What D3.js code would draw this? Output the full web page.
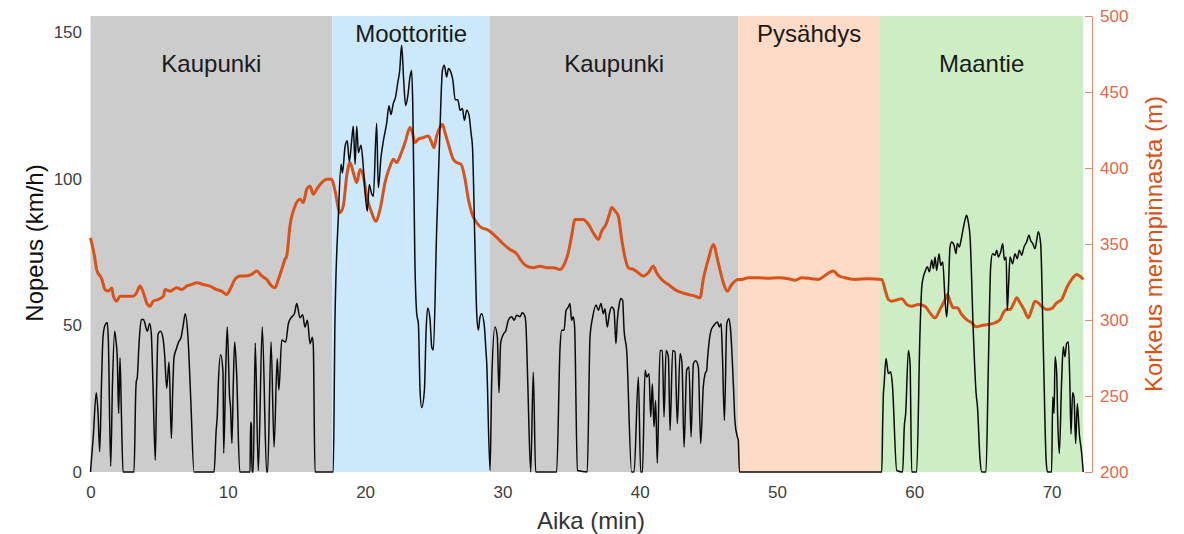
<!DOCTYPE html>
<html>
<head>
<meta charset="utf-8">
<script src="https://cdn.jsdelivr.net/npm/d3@7"></script>
<style>
  html, body { margin: 0; padding: 0; background: #fff; }
  svg { display: block; font-family: "Liberation Sans", Arial, Helvetica, sans-serif; }
</style>
</head>
<body>
<svg id="chart" width="1184" height="534"></svg>
<script>
// ---------- DATA ----------
const regionNames  = ["Kaupunki", "Moottoritie", "Kaupunki", "Pysähdys", "Maantie"];
const regionStarts = [0, 17.61, 29.1, 47.18, 57.5];
const regionEnds   = [17.61, 29.1, 47.18, 57.5, 72.3];

const xTicks = [0, 10, 20, 30, 40, 50, 60, 70];
const speedTicks = [0, 50, 100, 150];
const elevTicks = [200, 250, 300, 350, 400, 450, 500];

// [time (min), speed (km/h)]
const speedData = [
[0,0],[0.2,12],[0.42,27],[0.55,20],[0.67,7],[0.8,30],[0.91,46],[1.05,50],[1.22,51],[1.3,45],[1.47,2],[1.6,30],[1.76,48],[1.85,45],[1.95,39],[2.05,20],[2.15,39],[2.25,20],[2.37,0],[3.17,0],[3.3,28],[3.34,31],[3.4,32],[3.55,45],[3.7,52],[3.85,52],[3.95,51],[4.05,49],[4.14,48],[4.31,50.7],[4.43,47],[4.55,30],[4.72,4],[4.82,30],[4.92,47],[5.1,48],[5.28,45.6],[5.4,40],[5.55,28.6],[5.72,37.5],[5.89,11.5],[6.0,30],[6.08,39],[6.25,42],[6.42,44.4],[6.6,46],[6.75,50],[6.9,54],[7.1,46],[7.3,25],[7.54,0],[9.0,0],[9.15,14],[9.24,20],[9.3,29],[9.48,40],[9.65,34],[9.7,6.4],[9.85,35],[9.96,49.5],[10.13,25.6],[10.2,22],[10.3,9.8],[10.4,30],[10.5,44.4],[10.64,34],[10.87,0],[11.62,0],[11.66,17],[11.72,16],[11.76,0],[11.85,0],[12.0,44],[12.22,0.5],[12.51,49.5],[12.83,0],[12.9,0],[13.15,44.4],[13.37,8.5],[13.6,38.7],[13.72,28],[13.93,45],[14.22,44.4],[14.41,50.6],[14.65,52.9],[14.85,54],[15.02,57.5],[15.26,52.6],[15.45,53.7],[15.62,49.5],[15.8,51.8],[15.99,43.8],[16.16,46],[16.23,42.7],[16.35,0],[17.68,0],[17.8,50],[18.05,87],[18.25,105],[18.35,102],[18.54,111],[18.7,113],[18.85,106],[19.02,113],[19.14,118],[19.27,105],[19.39,118],[19.51,109],[19.7,111.5],[19.87,104],[19.99,96],[20.16,89],[20.3,98],[20.47,95],[20.6,94],[20.84,119],[20.96,97],[21.16,107.5],[21.33,113],[21.57,119],[21.74,125],[21.88,122],[22.05,125.7],[22.22,128],[22.37,132.6],[22.52,137],[22.66,145.6],[22.81,133.7],[22.95,125],[23.1,128],[23.27,134.8],[23.39,137],[23.47,125.7],[23.63,71],[23.76,54],[23.88,50.6],[24.0,28],[24.12,22],[24.32,28],[24.44,48],[24.56,56],[24.73,52],[24.85,42.7],[24.97,41.6],[25.21,82.5],[25.45,116.6],[25.63,137],[25.77,138.8],[25.94,134.8],[26.07,137.7],[26.24,136.5],[26.39,133.7],[26.56,127],[26.75,127],[26.92,123.4],[27.09,124],[27.23,120],[27.4,123.4],[27.57,121.7],[27.72,115.5],[27.82,111],[28.0,77],[28.13,54],[28.25,48.4],[28.37,53],[28.49,54],[28.69,49.5],[28.8,41.5],[28.85,38],[29.1,0.5],[29.22,31],[29.46,49.5],[29.63,46],[29.75,27],[29.87,44],[30.07,47],[30.26,48.4],[30.43,51.8],[30.67,53],[30.85,51.8],[31.04,53.5],[31.28,53],[31.45,54.3],[31.65,53],[31.72,49.5],[31.85,30],[32.06,0],[32.25,34],[32.42,0],[33.95,0],[34.2,42.7],[34.32,48.4],[34.49,48.4],[34.63,55],[34.8,56.3],[34.92,57.5],[35.04,51.8],[35.16,53],[35.26,49.5],[35.46,0.5],[36.18,0],[36.38,46],[36.58,53],[36.82,57],[36.99,55.2],[37.18,57.5],[37.35,54],[37.47,55.7],[37.64,49.5],[37.79,54],[37.96,56.3],[38.13,55.2],[38.27,43.8],[38.37,51.8],[38.52,57.5],[38.62,59.2],[38.76,58.6],[38.86,48.4],[39.05,41.5],[39.41,0],[39.59,0],[39.9,32.4],[40.07,0],[40.2,0],[40.39,34.7],[40.51,32.4],[40.68,33.5],[40.8,18.8],[40.92,30],[41.04,15.4],[41.16,24.4],[41.28,3],[41.48,41.5],[41.65,41.5],[41.77,18.8],[41.92,41.5],[42.09,39.3],[42.21,14.2],[42.4,41.5],[42.57,41],[42.74,16.5],[42.94,40.4],[43.08,37],[43.23,8.5],[43.42,34.7],[43.59,35.8],[43.74,12],[43.91,37],[44.08,38],[44.27,35.8],[44.44,9.7],[44.63,29],[44.76,33.5],[44.88,34.7],[44.93,38],[45.07,45],[45.2,48.4],[45.32,49.5],[45.49,50.6],[45.66,51.2],[45.8,49.5],[45.93,50.6],[46.02,40.4],[46.17,17.6],[46.34,50.6],[46.5,52.3],[46.62,48.4],[46.82,30],[46.94,17],[47.11,12],[47.18,11],[47.26,0],[57.63,0],[57.7,17.6],[57.74,25.6],[57.8,30],[57.94,38.7],[58.11,33.6],[58.28,34.2],[58.4,30],[58.72,0.5],[59.15,0],[59.27,15.4],[59.37,20],[59.57,41.5],[59.69,37],[59.81,0],[60.17,0],[60.41,47.2],[60.54,63],[60.66,66.6],[60.78,68.3],[60.95,70],[61.1,68.3],[61.27,72.3],[61.39,69.4],[61.51,73.4],[61.63,68.8],[61.8,74.5],[61.92,70.5],[62.07,71.7],[62.24,58.6],[62.36,52.9],[62.48,62],[62.6,76.8],[62.72,78.5],[62.89,77.4],[63.04,74.5],[63.13,78],[63.28,76.8],[63.4,79],[63.52,82],[63.69,86],[63.81,87.6],[63.93,85.3],[64.06,80.2],[64.3,47.2],[64.5,26.8],[64.6,22.2],[64.79,4],[64.91,0],[65.22,0],[65.39,35.8],[65.56,70],[65.7,74.5],[65.88,74],[66.0,75.7],[66.12,73.4],[66.29,75.1],[66.44,77.9],[66.56,72.3],[66.69,73.4],[66.77,55.2],[66.87,64.3],[66.97,73.4],[67.16,71.1],[67.33,74.5],[67.5,72.8],[67.65,75.7],[67.82,74],[67.99,76.8],[68.18,78.5],[68.35,80.8],[68.47,79],[68.62,78],[68.79,76.2],[68.91,79],[69.03,82],[69.2,78],[69.4,41.5],[69.6,4],[69.7,0],[70.0,0],[70.08,25.6],[70.18,20],[70.25,39.3],[70.37,33.6],[70.44,18.8],[70.56,6.3],[70.73,31.3],[70.85,42.7],[70.97,39.3],[71.09,43.8],[71.22,44.4],[71.33,30],[71.41,13],[71.53,27],[71.63,25.6],[71.75,9.7],[71.87,23.3],[72.02,12.9],[72.19,6.3],[72.3,0]
];

// [time (min), elevation (m)]
const elevData = [
[0,354],[0.33,340],[0.45,333],[0.82,327],[1.06,320],[1.3,319],[1.55,321],[1.66,316],[1.91,312.4],[2.15,315.7],[2.64,315.7],[3.12,315.7],[3.36,318],[3.6,322.3],[3.85,318],[4.09,311.3],[4.33,309],[4.57,312.4],[4.94,313.5],[5.31,315.7],[5.43,320],[5.8,319],[6.28,321.2],[6.65,320],[7.0,322.3],[7.4,323.4],[7.73,324.5],[8.22,323.4],[8.7,322.3],[9.19,320],[9.55,319],[9.92,316.8],[10.16,320],[10.52,326.7],[10.89,329],[11.38,329],[11.74,330],[12.1,332.2],[12.47,329],[12.83,326.7],[13.2,322.3],[13.44,321.2],[13.68,326.7],[13.93,333.3],[14.17,340],[14.29,342],[14.53,362],[14.9,375],[15.26,379.4],[15.5,377.2],[15.75,386],[15.99,388],[16.23,382.7],[16.47,386],[16.84,390.4],[17.2,392.6],[17.57,392.6],[17.81,385],[18.17,370.6],[18.41,375],[18.66,394.7],[18.9,403.6],[19.14,397],[19.39,390.4],[19.63,399],[19.87,394.7],[20.11,381.6],[20.48,370.6],[20.77,365],[21.09,372.8],[21.45,390.4],[21.82,401.3],[22.06,405.7],[22.3,403.6],[22.55,408],[22.91,416.7],[23.27,426.6],[23.44,423.3],[23.63,416.7],[23.88,419],[24.24,420],[24.6,421],[24.85,416.7],[25.02,413.4],[25.21,421],[25.45,426.6],[25.63,428.8],[25.82,423.3],[26.07,415.6],[26.42,405.7],[26.67,403.6],[26.99,402.4],[27.28,392.6],[27.52,379.4],[27.76,370.6],[28.13,364],[28.49,360.7],[28.86,359.6],[29.22,357.4],[29.6,354.2],[30.07,350],[30.55,346.4],[31.04,343.5],[31.4,338.7],[31.77,335.4],[32.25,334.4],[32.74,335.4],[33.22,334.4],[33.71,334.4],[34.2,333.3],[34.56,337.7],[34.8,344.3],[35.04,355.2],[35.29,366.2],[35.53,366.2],[35.89,366.2],[36.26,363],[36.62,357.4],[36.99,353],[37.23,358.5],[37.55,363],[37.79,369.5],[37.96,374],[38.2,371.7],[38.44,368.4],[38.69,353],[38.93,341],[39.17,334.4],[39.53,333.3],[39.9,331.1],[40.26,329],[40.63,331.1],[40.99,335.4],[41.23,331.1],[41.6,326.7],[42.08,323.4],[42.57,320],[43.06,318],[43.54,316.8],[44.03,315.7],[44.39,314.6],[44.63,326.7],[45.0,340],[45.36,349.7],[45.72,337.7],[46.09,324.5],[46.38,319],[46.7,323.4],[47.18,326.7],[47.42,326.7],[47.91,327.8],[48.64,327.8],[49.36,327.5],[50.09,327.8],[50.82,327.2],[51.31,326.2],[51.8,327.8],[52.52,327.2],[53.01,326.7],[53.5,329.3],[54.1,332.2],[54.47,329.3],[54.95,327.8],[55.68,326.7],[56.65,327.2],[57.63,326.7],[57.87,320],[58.11,313.5],[58.36,312.4],[58.84,313.5],[59.08,314],[59.45,310.2],[59.81,309],[60.3,310.2],[60.78,309],[61.14,304.7],[61.51,301.4],[61.87,306.9],[62.24,313.5],[62.41,316.8],[62.6,312.4],[62.84,308],[63.13,308],[63.45,303.6],[63.81,300.3],[64.18,298.2],[64.5,295.5],[64.91,296.4],[65.39,297],[65.88,298.2],[66.25,300.3],[66.48,304.7],[66.72,306.9],[66.97,306.9],[67.26,311.3],[67.46,314.6],[67.7,311.3],[67.99,306.9],[68.3,301.4],[68.55,306.9],[68.79,312.4],[69.03,311.3],[69.27,309],[69.64,306.9],[70.0,307.5],[70.37,311.3],[70.73,313.5],[71.1,321.2],[71.46,326.7],[71.83,330],[72.19,327.8],[72.3,326.7]
];

// ---------- STYLE ----------
const regionColor = {
  "Kaupunki": "#cccccc",
  "Moottoritie": "#cce9fb",
  "Pysähdys": "#fddbc7",
  "Maantie": "#cdeec4"
};
const ORANGE = "#d95319";

// ---------- DRAW ----------
const svg = d3.select("#chart");
const x = d3.scaleLinear().domain([0, 72.3]).range([90.5, 1083.2]);
const ySpeed = d3.scaleLinear().domain([0, 155.6]).range([472, 16]);
const yElev = d3.scaleLinear().domain([200, 500]).range([472, 16]);

const regions = regionNames.map((n, i) => ({ name: n, start: regionStarts[i], end: regionEnds[i], i }));

svg.append("g").selectAll("rect").data(regions).join("rect")
  .attr("x", d => x(d.start))
  .attr("y", ySpeed.range()[1])
  .attr("width", d => x(d.end) - x(d.start))
  .attr("height", ySpeed.range()[0] - ySpeed.range()[1])
  .attr("fill", d => regionColor[d.name]);

svg.append("g").selectAll("text").data(regions).join("text")
  .attr("x", d => (x(d.start) + x(d.end)) / 2)
  .attr("y", d => d.i % 2 === 1 ? 42 : 72)
  .attr("text-anchor", "middle")
  .attr("font-size", 24)
  .attr("fill", "#1a1a1a")
  .text(d => d.name);

// elevation line (orange)
svg.append("path")
  .datum(elevData)
  .attr("fill", "none")
  .attr("stroke", ORANGE)
  .attr("stroke-width", 3)
  .attr("stroke-linejoin", "round")
  .attr("d", d3.line().curve(d3.curveMonotoneX).x(d => x(d[0])).y(d => yElev(d[1])));

// speed line (black)
svg.append("path")
  .datum(speedData)
  .attr("fill", "none")
  .attr("stroke", "#0a0a0a")
  .attr("stroke-width", 1.5)
  .attr("stroke-linejoin", "round")
  .attr("d", d3.line().curve(d3.curveMonotoneX).x(d => x(d[0])).y(d => ySpeed(d[1])));

// left axis
const gL = svg.append("g").attr("transform", "translate(90,0)")
  .call(d3.axisLeft(ySpeed).tickValues(speedTicks).tickSize(0).tickPadding(8));
gL.select(".domain").remove();
gL.selectAll("text").attr("font-size", 17).attr("fill", "#404040")
  .attr("font-family", "Liberation Sans, Arial, sans-serif");

// bottom axis
const gB = svg.append("g").attr("transform", "translate(0,472)")
  .call(d3.axisBottom(x).tickValues(xTicks).tickSize(0).tickPadding(14));
gB.select(".domain").remove();
gB.selectAll("text").attr("font-size", 17).attr("fill", "#404040")
  .attr("font-family", "Liberation Sans, Arial, sans-serif");

// right axis
const gR = svg.append("g").attr("transform", "translate(1092,0)")
  .call(d3.axisRight(yElev).tickValues(elevTicks).tickSizeInner(-7).tickSizeOuter(0).tickPadding(8));
gR.select(".domain").attr("stroke", "#e58a6a").attr("stroke-width", 1);
gR.selectAll(".tick line").attr("stroke", "#e58a6a");
gR.selectAll("text").attr("font-size", 17).attr("fill", "#e0694a")
  .attr("font-family", "Liberation Sans, Arial, sans-serif");

// axis titles
svg.append("text")
  .attr("transform", "translate(43,243) rotate(-90)")
  .attr("text-anchor", "middle")
  .attr("font-size", 24)
  .attr("fill", "#111")
  .text("Nopeus (km/h)");

svg.append("text")
  .attr("x", 591).attr("y", 529)
  .attr("text-anchor", "middle")
  .attr("font-size", 24)
  .attr("fill", "#333")
  .text("Aika (min)");

svg.append("text")
  .attr("transform", "translate(1162,244) rotate(-90)")
  .attr("text-anchor", "middle")
  .attr("font-size", 24)
  .attr("fill", ORANGE)
  .text("Korkeus merenpinnasta (m)");
</script>
</body>
</html>
